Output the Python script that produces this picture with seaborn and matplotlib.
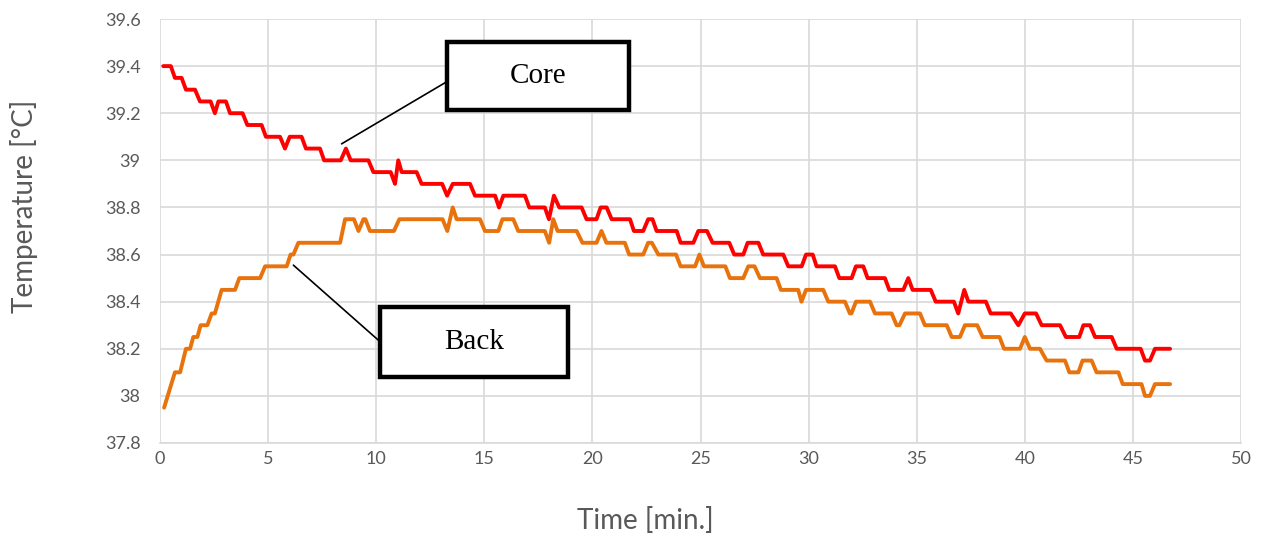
import matplotlib
matplotlib.use("Agg")
import matplotlib.pyplot as plt
from matplotlib.patches import Rectangle
from matplotlib.ticker import FuncFormatter, MultipleLocator
import pandas as pd
import seaborn as sns

# ─────────────────────────────────────────────
# Data (corners of the step trace)
# ─────────────────────────────────────────────
core_time = [
    0.15, 0.5, 0.69, 1.0, 1.2, 1.62, 1.85, 2.34, 2.54, 2.7,
    3.05, 3.24, 3.82, 4.04, 4.7, 4.9, 5.55, 5.78, 6.0, 6.55,
    6.75, 7.4, 7.59, 8.36, 8.6, 8.82, 9.64, 9.87, 10.67, 10.87,
    11.02, 11.18, 11.87, 12.1, 13.05, 13.28, 13.54, 14.34, 14.57, 15.5,
    15.68, 15.88, 16.88, 17.08, 17.8, 17.99, 18.22, 18.47, 19.5, 19.73,
    20.19, 20.38, 20.66, 20.89, 21.74, 21.92, 22.35, 22.58, 22.78, 22.97,
    23.9, 24.08, 24.67, 24.9, 25.3, 25.56, 26.33, 26.56, 26.98, 27.18,
    27.68, 27.9, 28.83, 29.06, 29.68, 29.88, 30.19, 30.37, 31.22, 31.42,
    31.99, 32.19, 32.53, 32.73, 33.53, 33.73, 34.38, 34.61, 34.81, 35.65,
    35.88, 36.72, 36.92, 37.2, 37.39, 38.2, 38.42, 39.35, 39.7, 40.0,
    40.52, 40.78, 41.63, 41.9, 42.52, 42.71, 43.02, 43.25, 44.02, 44.25,
    45.36, 45.56, 45.79, 46.02, 46.72,
]
core_temp = [
    39.4, 39.4, 39.35, 39.35, 39.3, 39.3, 39.25, 39.25, 39.2, 39.25,
    39.25, 39.2, 39.2, 39.15, 39.15, 39.1, 39.1, 39.05, 39.1, 39.1,
    39.05, 39.05, 39.0, 39.0, 39.05, 39.0, 39.0, 38.95, 38.95, 38.9,
    39.0, 38.95, 38.95, 38.9, 38.9, 38.85, 38.9, 38.9, 38.85, 38.85,
    38.8, 38.85, 38.85, 38.8, 38.8, 38.75, 38.85, 38.8, 38.8, 38.75,
    38.75, 38.8, 38.8, 38.75, 38.75, 38.7, 38.7, 38.75, 38.75, 38.7,
    38.7, 38.65, 38.65, 38.7, 38.7, 38.65, 38.65, 38.6, 38.6, 38.65,
    38.65, 38.6, 38.6, 38.55, 38.55, 38.6, 38.6, 38.55, 38.55, 38.5,
    38.5, 38.55, 38.55, 38.5, 38.5, 38.45, 38.45, 38.5, 38.45, 38.45,
    38.4, 38.4, 38.35, 38.45, 38.4, 38.4, 38.35, 38.35, 38.3, 38.35,
    38.35, 38.3, 38.3, 38.25, 38.25, 38.3, 38.3, 38.25, 38.25, 38.2,
    38.2, 38.15, 38.15, 38.2, 38.2,
]

back_time = [
    0.19, 0.69, 0.93, 1.2, 1.39, 1.54, 1.73, 1.88, 2.19, 2.39,
    2.54, 2.85, 3.47, 3.67, 4.63, 4.86, 5.86, 6.04, 6.17, 6.4,
    8.33, 8.56, 8.97, 9.18, 9.41, 9.5, 9.71, 10.82, 11.07, 13.07,
    13.29, 13.54, 13.72, 14.8, 15.03, 15.65, 15.84, 16.34, 16.57, 17.8,
    18.0, 18.19, 18.39, 19.27, 19.54, 20.19, 20.42, 20.65, 21.5, 21.7,
    22.35, 22.58, 22.75, 23.05, 23.87, 24.08, 24.75, 24.95, 25.16, 26.15,
    26.36, 26.98, 27.21, 27.5, 27.75, 28.52, 28.72, 29.52, 29.67, 29.88,
    30.68, 30.91, 31.68, 31.91, 31.98, 32.19, 32.84, 33.07, 33.84, 34.07,
    34.2, 34.46, 35.15, 35.38, 36.39, 36.62, 37.0, 37.23, 37.8, 38.05,
    38.83, 39.04, 39.78, 40.0, 40.24, 40.7, 41.01, 41.86, 42.06, 42.48,
    42.67, 43.09, 43.32, 44.33, 44.53, 45.4, 45.56, 45.79, 46.02, 46.72,
]
back_temp = [
    37.95, 38.1, 38.1, 38.2, 38.2, 38.25, 38.25, 38.3, 38.3, 38.35,
    38.35, 38.45, 38.45, 38.5, 38.5, 38.55, 38.55, 38.6, 38.6, 38.65,
    38.65, 38.75, 38.75, 38.7, 38.75, 38.75, 38.7, 38.7, 38.75, 38.75,
    38.7, 38.8, 38.75, 38.75, 38.7, 38.7, 38.75, 38.75, 38.7, 38.7,
    38.65, 38.75, 38.7, 38.7, 38.65, 38.65, 38.7, 38.65, 38.65, 38.6,
    38.6, 38.65, 38.65, 38.6, 38.6, 38.55, 38.55, 38.6, 38.55, 38.55,
    38.5, 38.5, 38.55, 38.55, 38.5, 38.5, 38.45, 38.45, 38.4, 38.45,
    38.45, 38.4, 38.4, 38.35, 38.35, 38.4, 38.4, 38.35, 38.35, 38.3,
    38.3, 38.35, 38.35, 38.3, 38.3, 38.25, 38.25, 38.3, 38.3, 38.25,
    38.25, 38.2, 38.2, 38.25, 38.2, 38.2, 38.15, 38.15, 38.1, 38.1,
    38.15, 38.15, 38.1, 38.1, 38.05, 38.05, 38.0, 38.0, 38.05, 38.05,
]

series_names = ["Core", "Back"]
series_colors = {"Core": "#FF0000", "Back": "#E8720C"}

x_ticks = list(range(0, 51, 5))
y_limits = (37.8, 39.6)

df = pd.concat([
    pd.DataFrame({"time": core_time, "temp": core_temp, "series": "Core"}),
    pd.DataFrame({"time": back_time, "temp": back_temp, "series": "Back"}),
], ignore_index=True)

# ─────────────────────────────────────────────
# Plot
# ─────────────────────────────────────────────
sns.set_theme(style="white")
plt.rcParams["font.family"] = ["Lato", "DejaVu Sans"]

fig = plt.figure(figsize=(12.69, 5.35), dpi=100)
ax = fig.add_axes([160 / 1269, 1 - 443 / 535, (1241 - 160) / 1269, (443 - 19) / 535])

sns.lineplot(
    data=df, x="time", y="temp", hue="series", hue_order=series_names,
    palette=series_colors, linewidth=2.8, legend=False, ax=ax,
    sort=False, estimator=None,
)

ax.set_xlim(0, 50)
ax.set_ylim(*y_limits)
ax.set_xticks(x_ticks)
ax.yaxis.set_major_locator(MultipleLocator(0.2))
ax.yaxis.set_major_formatter(FuncFormatter(lambda v, _: f"{round(v, 2):g}"))

ax.grid(True, color="#d9d9d9", linewidth=1.2)
ax.set_axisbelow(True)
for side in ["top", "right", "left"]:
    ax.spines[side].set_visible(False)
ax.spines["bottom"].set_color("#d9d9d9")
ax.spines["bottom"].set_linewidth(1.2)
ax.tick_params(axis="both", length=0, labelsize=13, labelcolor="#595959")
ax.tick_params(axis="x", pad=6)
ax.tick_params(axis="y", pad=14)

ax.set_xlabel("Time [min.]", fontsize=20, color="#595959")
ax.set_ylabel("Temperature [°C]", fontsize=20, color="#595959")
ax.xaxis.set_label_coords(0.449, -0.152)
ax.yaxis.set_label_coords(-0.113, 0.557)

# callout boxes
callouts = [
    # label, box (x0, y0, x1, y1), text pos, leader from, leader to
    ("Core", (13.27, 39.214, 21.69, 39.502), (17.48, 39.36), (8.4, 39.07), (13.27, 39.334)),
    ("Back", (10.18, 38.08, 18.87, 38.377), (14.52, 38.23), (6.17, 38.555), (10.18, 38.23)),
]
for label, (x0, y0, x1, y1), (tx, ty), p0, p1 in callouts:
    ax.plot([p0[0], p1[0]], [p0[1], p1[1]], color="black", linewidth=1.2, zorder=4)
    ax.add_patch(Rectangle((x0, y0), x1 - x0, y1 - y0, facecolor="white",
                           edgecolor="black", linewidth=3.2, zorder=5))
    ax.text(tx, ty, label, ha="center", va="center", fontsize=21,
            family="Liberation Serif", color="black", zorder=6)

fig.savefig("out.png", dpi=100)
plt.close(fig)
